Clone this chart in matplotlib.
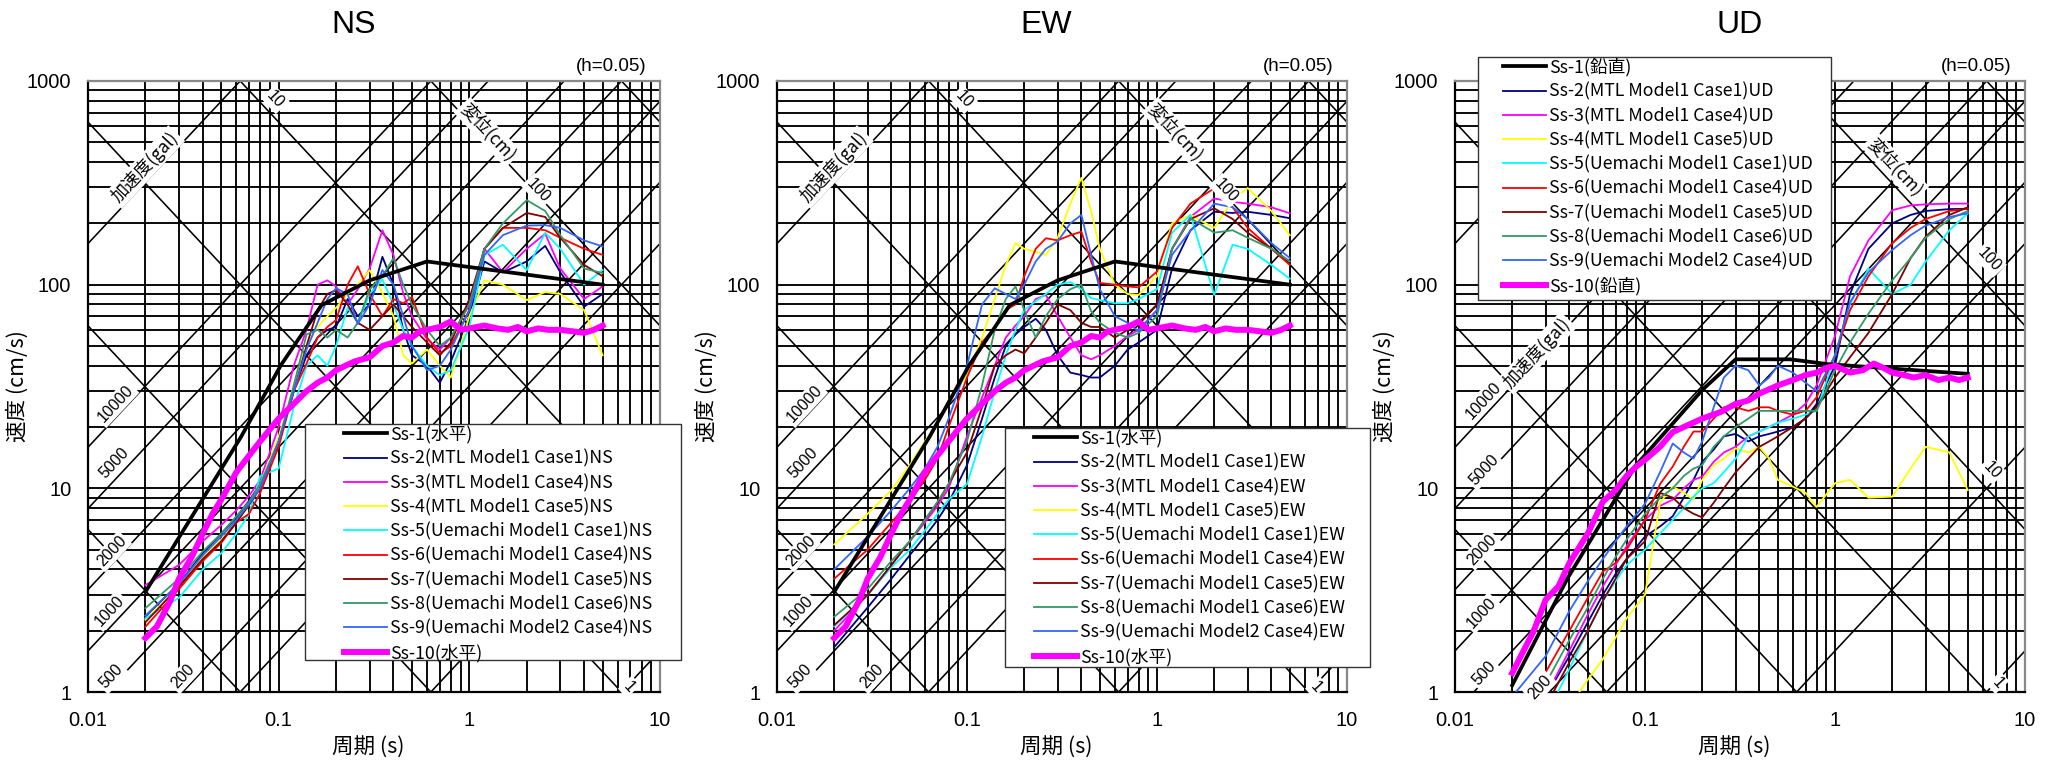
import numpy as np
import matplotlib
matplotlib.use('Agg')
import matplotlib.pyplot as plt
from matplotlib.patches import Rectangle
from matplotlib.ticker import NullFormatter

plt.rcParams['font.family'] = ['Noto Sans CJK JP', 'DejaVu Sans']

# ---------------- data (period s / velocity cm/s) ----------------
t_grid = [0.02, 0.03, 0.04, 0.05, 0.06, 0.07, 0.08, 0.1, 0.12, 0.14, 0.16, 0.18, 0.2,
          0.23, 0.26, 0.3, 0.35, 0.4, 0.45, 0.5, 0.6, 0.7, 0.8, 1.0, 1.2, 1.5, 2.0,
          2.5, 3.0, 4.0, 5.0]

# Ss-1 (design spectra)
h1_t = [0.02, 0.0635, 0.103, 0.168, 0.3, 0.6, 5.0]
h1_v = [3.1, 17.9, 40.4, 79.4, 105, 130, 100]
v1_t = [0.02, 0.039, 0.0886, 0.2, 0.3, 0.58, 0.92, 5.0]
v1_v = [1.08, 3.6, 12.8, 30.4, 43, 43, 40.7, 36.5]

# Ss-10
h10_t = [0.02, 0.023, 0.027, 0.03, 0.035, 0.04, 0.045, 0.05, 0.06, 0.07, 0.08, 0.09, 0.1,
         0.12, 0.14, 0.16, 0.18, 0.2, 0.25, 0.3, 0.35, 0.4, 0.45, 0.5, 0.55, 0.6, 0.7,
         0.8, 0.9, 1.0, 1.2, 1.4, 1.6, 1.8, 2.0, 2.3, 2.6, 3.0, 3.5, 4.0, 4.5, 5.0]
h10_v = [1.84, 2.1, 2.8, 3.6, 4.6, 6.0, 7.5, 8.8, 12.0, 14.5, 17, 19.5, 22, 26, 30, 33,
         35, 38, 42, 44, 50, 52, 56, 55, 59, 60, 62, 66, 60, 61, 63, 61, 60, 62, 59, 61,
         60, 60, 59, 58, 60, 63]
v10_t = [0.02, 0.023, 0.026, 0.03, 0.035, 0.04, 0.05, 0.06, 0.07, 0.08, 0.09, 0.1, 0.12,
         0.14, 0.16, 0.2, 0.25, 0.3, 0.35, 0.4, 0.5, 0.6, 0.7, 0.8, 0.9, 1.0, 1.2, 1.4,
         1.6, 1.8, 2.0, 2.3, 2.6, 3.0, 3.5, 4.0, 4.5, 5.0]
v10_v = [1.24, 1.6, 2.0, 2.84, 3.3, 4.3, 6.0, 8.6, 9.8, 11.5, 12.8, 13.8, 16, 18.9, 20, 22,
         23.7, 26, 27, 29.2, 32, 34, 36, 37, 39, 40, 37, 38, 41, 39, 37, 36, 35, 36, 34,
         35, 34, 35]

# NS
ns_ss2 = [2.35, 3.4, 4.8, 6.0, 7.2, 8.7, 10.5, 17, 30, 45, 55, 60, 62, 85, 70, 80, 137, 100,
          60, 45, 40, 33, 42, 70, 130, 115, 130, 155, 115, 78, 90]
ns_ss3 = [3.35, 4.2, 5.5, 6.6, 7.8, 9.2, 11, 20, 40, 60, 100, 105, 98, 80, 95, 120, 185, 140,
          91, 70, 54, 48, 55, 80, 150, 115, 150, 178, 120, 85, 98]
ns_ss4 = [2.26, 3.3, 4.6, 5.6, 6.8, 8.3, 10.5, 18, 32, 50, 62, 70, 77, 90, 100, 118, 91, 70,
          45, 41, 48, 40, 35, 70, 105, 100, 84, 92, 90, 75, 45]
ns_ss5 = [2.3, 2.9, 4.0, 4.8, 6.0, 7.5, 11.5, 12.5, 25, 40, 45, 40, 50, 77, 65, 90, 106, 80,
          60, 50, 40, 36, 38, 62, 140, 157, 118, 180, 150, 100, 118]
ns_ss6 = [2.09, 3.2, 4.4, 5.4, 6.8, 7.5, 9.5, 16, 30, 41, 55, 62, 67, 100, 123, 90, 70, 85,
          81, 87, 55, 46, 50, 75, 150, 190, 190, 185, 170, 150, 140]
ns_ss7 = [2.2, 3.3, 4.5, 5.5, 6.8, 8.3, 10, 17, 30, 50, 75, 90, 94, 80, 65, 60, 70, 80,
          70, 62, 52, 45, 52, 85, 150, 190, 225, 215, 170, 125, 110]
ns_ss8 = [2.58, 3.6, 4.9, 6.0, 7.3, 8.6, 10.5, 17, 32, 57, 60, 55, 60, 55, 65, 95, 110, 135,
          100, 80, 60, 50, 55, 80, 150, 200, 260, 230, 175, 120, 114]
ns_ss9 = [2.37, 3.4, 4.7, 5.8, 7.0, 8.4, 10, 17, 30, 48, 65, 85, 96, 90, 64, 80, 118, 100,
          70, 50, 38, 40, 48, 75, 140, 175, 195, 196, 190, 165, 154]

# EW
ew_ss2 = [1.66, 2.6, 3.6, 4.7, 5.8, 7.0, 8.5, 13, 22, 35, 50, 57, 62, 68, 60, 45, 37, 36,
          35, 35, 40, 48, 52, 60, 120, 185, 228, 225, 228, 220, 212]
ew_ss3 = [2.0, 3.0, 4.2, 5.5, 6.8, 8.2, 10, 18, 28, 40, 55, 63, 70, 85, 89, 70, 55, 45,
          43, 45, 50, 56, 60, 75, 150, 215, 265, 255, 250, 240, 224]
ew_ss4 = [5.3, 7.5, 9.8, 13, 17, 21, 27, 36, 55, 85, 125, 160, 150, 145, 140, 170, 250, 335,
          230, 150, 100, 90, 89, 110, 200, 220, 190, 260, 298, 230, 175]
ew_ss5 = [2.1, 3.0, 4.1, 5.0, 6.2, 7.5, 8.8, 10.5, 18, 30, 45, 60, 75, 83, 90, 100, 103, 95,
          86, 84, 81, 81, 85, 95, 180, 220, 89, 157, 150, 125, 107]
ew_ss6 = [3.6, 5.0, 6.8, 8.6, 11, 14, 20, 35, 52, 62, 75, 80, 110, 150, 169, 165, 175, 182,
          130, 102, 100, 98, 97, 116, 190, 250, 297, 240, 190, 150, 125]
ew_ss7 = [2.13, 3.0, 4.2, 5.5, 7.0, 8.5, 10.5, 15, 25, 40, 45, 48, 46, 55, 65, 80, 75, 65,
          62, 62, 55, 60, 65, 80, 150, 210, 237, 210, 180, 150, 130]
ew_ss8 = [2.34, 3.2, 4.4, 5.5, 7.0, 8.6, 10.5, 17, 32, 60, 85, 98, 75, 55, 70, 85, 95, 100,
          74, 65, 58, 55, 58, 70, 150, 212, 180, 185, 170, 150, 130]
ew_ss9 = [4.0, 5.8, 7.8, 10, 12.5, 16, 22, 40, 80, 96, 90, 85, 100, 130, 150, 163, 200, 220,
          140, 95, 70, 65, 59, 75, 140, 184, 250, 240, 210, 160, 135]

# UD
ud_ss2 = [0.6, 0.95, 1.5, 2.2, 3.0, 3.8, 4.5, 5.8, 6.5, 7.3, 9, 11, 13.5, 15.5, 18, 18.5,
          17, 18, 18.5, 19, 20, 22, 26, 40, 90, 150, 200, 220, 230, 235, 236]
ud_ss3 = [0.55, 0.95, 1.6, 2.4, 3.3, 4.2, 5.2, 7.0, 8.2, 8.8, 10, 11, 11.4, 13.5, 15, 16,
          18, 19, 20, 21, 23, 26, 32, 56, 110, 165, 232, 245, 248, 250, 250]
ud_ss4 = [0.3, 0.55, 0.85, 1.15, 1.45, 1.85, 2.3, 3.0, 8.5, 10.2, 9.5, 8.8, 11, 13, 14,
          15.7, 15, 16, 14, 11, 10.2, 9.5, 8.1, 10.6, 11, 9, 9.1, 12.5, 16, 15, 9.8]
ud_ss5 = [0.4, 0.75, 1.3, 2.0, 2.8, 3.5, 4.2, 5.0, 6.0, 7.0, 8.0, 9.1, 10, 10.6, 12, 14,
          18, 19, 20, 21, 22, 23, 24, 45, 80, 120, 90, 100, 130, 185, 224]
ud_ss6 = [0.75, 1.25, 2.0, 2.9, 3.9, 4.3, 5.0, 7.0, 10.5, 12.8, 16, 19, 19, 22, 25, 25,
          24, 25, 25, 24, 23, 24, 28, 45, 75, 110, 160, 190, 210, 230, 236]
ud_ss7 = [0.5, 0.85, 1.4, 2.0, 2.8, 3.6, 4.5, 5.5, 9.5, 9.0, 8.0, 7.5, 7.2, 8.5, 10, 12,
          14, 16, 17, 18, 20, 22, 25, 35, 44, 58, 90, 135, 172, 220, 240]
ud_ss8 = [0.65, 1.1, 1.8, 2.6, 3.6, 4.6, 5.6, 7.5, 9.0, 10, 11.5, 12.5, 13, 16, 18, 20,
          22, 24, 24, 24, 24, 24, 24, 38, 52, 72, 105, 135, 170, 210, 230]
ud_ss9 = [0.95, 1.5, 2.5, 3.5, 4.5, 5.5, 6.5, 8.4, 12, 16.6, 15, 14, 17, 25, 35, 40,
          38, 32, 35, 40, 37, 33, 30, 45, 82, 115, 148, 175, 195, 215, 224]

case_names = ['MTL Model1 Case1', 'MTL Model1 Case4', 'MTL Model1 Case5',
              'Uemachi Model1 Case1', 'Uemachi Model1 Case4', 'Uemachi Model1 Case5',
              'Uemachi Model1 Case6', 'Uemachi Model2 Case4']
case_colors = ['#000080', '#FF00FF', '#FFFF00', '#00FFFF', '#FF0000', '#800000',
               '#339966', '#3366FF']

# tripartite guide lines
acc_lines = [1, 10, 100, 200, 500, 1000, 2000, 5000, 10000, 100000]   # gal
disp_lines = [0.01, 0.1, 1, 10, 100, 1000]                            # cm

# (text, T, V, direction) 1 = along acceleration lines, -1 = along displacement lines
h_marks = [('加速度(gal)', 0.0199, 378, 1), ('10', 0.096, 810, -1), ('変位(cm)', 1.25, 560, -1),
           ('100', 2.3, 290, -1), ('10000', 0.014, 26, 1), ('5000', 0.0137, 13.3, 1),
           ('2000', 0.0133, 4.9, 1), ('1000', 0.013, 2.5, 1), ('500', 0.0133, 1.19, 1),
           ('200', 0.0316, 1.19, 1), ('1', 6.9, 1.06, -1)]
v_marks = [('加速度(gal)', 0.027, 46, 1), ('10000', 0.0142, 27, 1), ('5000', 0.0142, 12.3, 1),
           ('2000', 0.0138, 5.0, 1), ('1000', 0.0138, 2.44, 1), ('500', 0.0142, 1.24, 1),
           ('200', 0.028, 1.06, 1), ('変位(cm)', 2.07, 379, -1), ('100', 6.5, 132, -1),
           ('10', 6.7, 12.3, -1), ('1', 7.2, 1.11, -1)]

# ---------------- layout (pixels) ----------------
W, H = 2058, 766
TOP, BOT = 81, 692
panels = [
    dict(name='NS', xpx=(88, 660), s1=(h1_t, h1_v), s10=(h10_t, h10_v), dirn='水平',
         cases=[ns_ss2, ns_ss3, ns_ss4, ns_ss5, ns_ss6, ns_ss7, ns_ss8, ns_ss9],
         marks=h_marks, box=(305, 424, 681, 660), hx=344, title_x=0.465),
    dict(name='EW', xpx=(777, 1347), s1=(h1_t, h1_v), s10=(h10_t, h10_v), dirn='水平',
         cases=[ew_ss2, ew_ss3, ew_ss4, ew_ss5, ew_ss6, ew_ss7, ew_ss8, ew_ss9],
         marks=h_marks, box=(1005, 428, 1370, 667), hx=1034, title_x=0.472),
    dict(name='UD', xpx=(1455, 2025), s1=(v1_t, v1_v), s10=(v10_t, v10_v), dirn='鉛直',
         cases=[ud_ss2, ud_ss3, ud_ss4, ud_ss5, ud_ss6, ud_ss7, ud_ss8, ud_ss9],
         marks=v_marks, box=(1478, 57, 1831, 300), hx=1503, title_x=0.50),
]

fig = plt.figure(figsize=(W / 100, H / 100), dpi=100)
tt = np.logspace(-2, 1, 200)

for p in panels:
    x0, x1 = p['xpx']
    ax = fig.add_axes([x0 / W, 1 - BOT / H, (x1 - x0) / W, (BOT - TOP) / H])
    ax.set_xscale('log')
    ax.set_yscale('log')
    ax.set_axisbelow(True)
    ax.grid(True, which='both', color='black', lw=1.35)

    for a in acc_lines:
        ax.plot(tt, a * tt / (2 * np.pi), color='black', lw=1.15, zorder=1)
    for d in disp_lines:
        ax.plot(tt, 2 * np.pi * d / tt, color='black', lw=1.15, zorder=1)

    ang = np.degrees(np.arctan((BOT - TOP) / 3.0 / ((x1 - x0) / 3.0)))
    for txt, t, v, sgn in p['marks']:
        fam = 'Liberation Sans' if txt.isdigit() else ['Noto Sans CJK JP', 'DejaVu Sans']
        ax.text(t, v, txt, rotation=sgn * ang, rotation_mode='anchor', ha='center',
                va='center', fontsize=11.5 if txt.isdigit() else 12.5, family=fam,
                bbox=dict(facecolor='white', edgecolor='none', pad=1.5), zorder=5,
                clip_on=False)

    case_lines = []
    for vals, col, cname in zip(p['cases'], case_colors, case_names):
        ln, = ax.plot(t_grid, vals, color=col, lw=1.3, zorder=3)
        case_lines.append(ln)
    l1, = ax.plot(p['s1'][0], p['s1'][1], color='black', lw=2.7, zorder=3.5)
    l10, = ax.plot(p['s10'][0], p['s10'][1], color='#FF00FF', lw=4.3, zorder=3.6)

    ax.set_xlim(0.01, 10)
    ax.set_ylim(1, 1000)
    ax.set_xticks([0.01, 0.1, 1, 10], labels=['0.01', '0.1', '1', '10'],
                  fontsize=14.5, fontfamily='Liberation Sans')
    ax.set_yticks([1, 10, 100, 1000], labels=['1', '10', '100', '1000'],
                  fontsize=14.5, fontfamily='Liberation Sans')
    ax.xaxis.set_minor_formatter(NullFormatter())
    ax.yaxis.set_minor_formatter(NullFormatter())
    ax.tick_params(which='both', length=0)
    ax.tick_params(axis='y', pad=12)
    ax.tick_params(axis='x', pad=14)
    for s in ['top', 'right']:
        ax.spines[s].set_color('#888888')
        ax.spines[s].set_linewidth(1.6)
    for s in ['left', 'bottom']:
        ax.spines[s].set_color('black')
        ax.spines[s].set_linewidth(1.6)

    hgt = BOT - TOP
    ax.text(p['title_x'], 1 + (TOP - 25) / hgt, p['name'], transform=ax.transAxes,
            ha='center', va='center', fontsize=23, family='Liberation Sans')
    ax.text(0.977, 1 + (TOP - 67) / hgt, '(h=0.05)', transform=ax.transAxes,
            ha='right', va='center', fontsize=13.5, family='Liberation Sans')
    ax.text(0.49, -(748 - BOT) / hgt, '周期 (s)', transform=ax.transAxes,
            ha='center', va='center', fontsize=15.5)
    ax.text(-70.0 / (x1 - x0), 0.5, '速度 (cm/s)', transform=ax.transAxes, rotation=90,
            ha='center', va='center', fontsize=15.5)

    # legend
    bx0, by0, bx1, by1 = p['box']
    ax.add_patch(Rectangle((bx0 / W, 1 - by1 / H), (bx1 - bx0) / W, (by1 - by0) / H,
                           transform=fig.transFigure, facecolor='white',
                           edgecolor='#333333', lw=1.0, zorder=6, clip_on=False))
    labels = ['Ss-1(' + p['dirn'] + ')']
    labels += ['Ss-%d(%s)%s' % (i + 2, c, p['name']) for i, c in enumerate(case_names)]
    labels += ['Ss-10(' + p['dirn'] + ')']
    leg = ax.legend([l1] + case_lines + [l10], labels, loc='upper left',
                    bbox_to_anchor=(p['hx'] / W, 1 - (by0 + 1) / H),
                    bbox_transform=fig.transFigure, frameon=False, borderpad=0,
                    borderaxespad=0, handlelength=2.4, handletextpad=0.2,
                    labelspacing=0.34, fontsize=12.8)
    leg.set_zorder(7)

fig.savefig('out.png', dpi=100)
